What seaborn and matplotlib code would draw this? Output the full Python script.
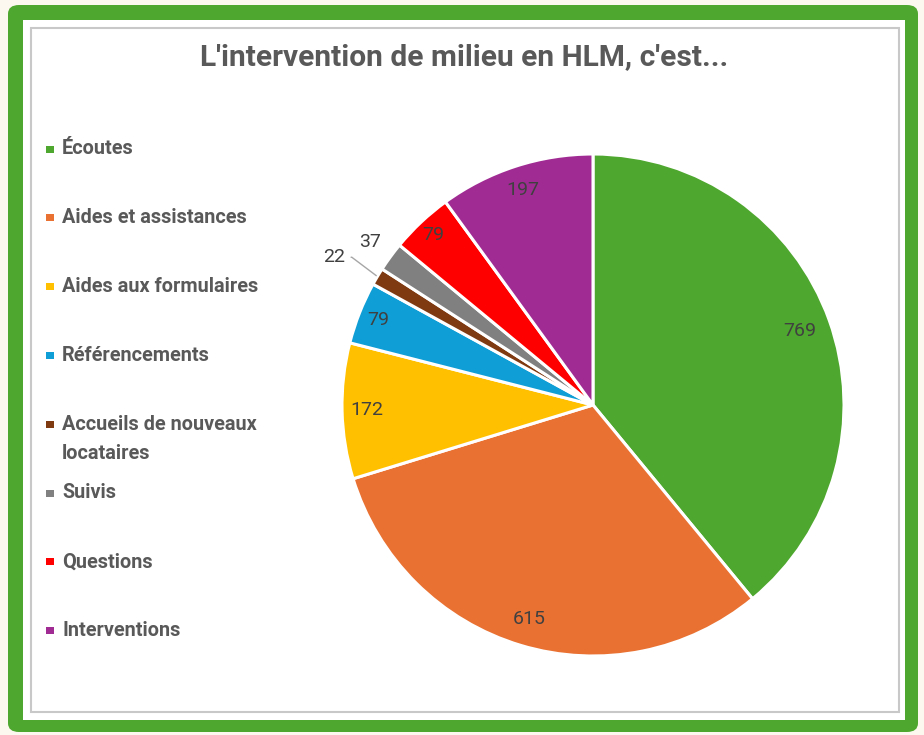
import matplotlib
matplotlib.use("Agg")
import matplotlib.pyplot as plt
from matplotlib.patches import FancyBboxPatch, Rectangle
import numpy as np
import seaborn as sns

sns.set_theme(style="white")

categories = ["Écoutes", "Aides et assistances", "Aides aux formulaires", "Référencements",
              "Accueils de nouveaux\nlocataires", "Suivis", "Questions", "Interventions"]
values = [769, 615, 172, 79, 22, 37, 79, 197]
colors = ["#4EA72E", "#E97132", "#FFC000", "#0F9ED5", "#7F3A12", "#808080", "#FF0000", "#A02B93"]
label_dist = [0.876, 0.89, 0.90, 0.92, 1.15, 1.10, 0.93, 0.90]
title = "L'intervention de milieu en HLM, c'est..."

fam = ["Roboto", "DejaVu Sans"]
plt.rcParams["font.family"] = fam

W, H = 924, 735
fig = plt.figure(figsize=(W / 100, H / 100), dpi=100)
fig.patch.set_facecolor("#FCF8F0")

def px(x, y):
    return x / W, 1 - y / H

# frames
fig.patches.append(FancyBboxPatch(px(8, 732), 910 / W, 727 / H,
                                  boxstyle="round,pad=0,rounding_size=0.012",
                                  transform=fig.transFigure, facecolor="#4EA72E", edgecolor="none", zorder=-3))
fig.patches.append(Rectangle(px(23, 720), 882 / W, 700 / H, transform=fig.transFigure,
                             facecolor="white", edgecolor="none", zorder=-2))
fig.patches.append(Rectangle(px(31, 712), 868 / W, 684 / H, transform=fig.transFigure,
                             facecolor="none", edgecolor="#C8C8C8", lw=1.5, zorder=-1))

fig.text(*px(464, 57), title, ha="center", va="center", fontsize=21.5, fontweight="bold",
         color="#595959", family=fam)

# pie
cx, cy, r = 593, 405, 251
ax = fig.add_axes([(cx - r) / W, (H - cy - r) / H, 2 * r / W, 2 * r / H])
ax.set_zorder(2)
ax.patch.set_alpha(0)
wedges, _ = ax.pie(values, colors=colors, startangle=90, counterclock=False,
                   wedgeprops=dict(edgecolor="white", linewidth=2.2))
ax.set_xlim(-1, 1)
ax.set_ylim(-1, 1)
ax.axis("off")

for w, v, d in zip(wedges, values, label_dist):
    mid = np.deg2rad((w.theta1 + w.theta2) / 2)
    x, y = d * np.cos(mid), d * np.sin(mid)
    if d > 1.12:
        ax.annotate(str(v), xy=(np.cos(mid), np.sin(mid)), xytext=(x, y), ha="right", va="center",
                    fontsize=14, color="#404040", family=fam, annotation_clip=False,
                    arrowprops=dict(arrowstyle="-", color="#A6A6A6", lw=1, shrinkA=2, shrinkB=1,
                                    connectionstyle="angle,angleA=0,angleB=-37"))
    else:
        ax.text(x, y, str(v), ha="center", va="center", fontsize=14, color="#404040", family=fam,
                clip_on=False)

# legend
y0, step, line = 149, 68.8, 29
for i, (c, lab) in enumerate(zip(colors, categories)):
    y = y0 + i * step
    fig.patches.append(Rectangle(px(46, y + 3.5), 8 / W, 7 / H, transform=fig.transFigure,
                                 facecolor=c, edgecolor="none"))
    for j, ln in enumerate(lab.split("\n")):
        fig.text(*px(62, y + j * line), ln, ha="left", va="center", fontsize=14.3, fontweight="bold",
                 color="#595959", family=fam)

fig.savefig("out.png", dpi=100, facecolor=fig.get_facecolor())
